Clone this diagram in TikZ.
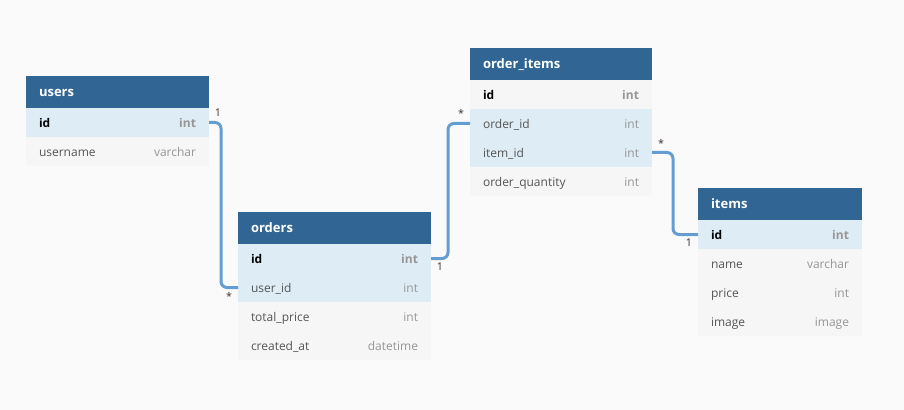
\documentclass[tikz,border=0pt]{standalone}
\usepackage{fontspec}
\setmainfont{Open Sans}
\usetikzlibrary{positioning, calc}
\definecolor{bgcanvas}{RGB}{250,250,250}
\definecolor{hdrblue}{RGB}{49,102,148}
\definecolor{rowblue}{RGB}{222,236,245}
\definecolor{rowgray}{RGB}{246,246,246}
\definecolor{linkblue}{RGB}{100,157,210}
\definecolor{fieldtext}{RGB}{85,85,85}
\definecolor{typetext}{RGB}{150,150,150}
\definecolor{cardtext}{RGB}{60,45,45}
\newcommand{\rowstrut}{\rule[-2.6pt]{0pt}{12pt}}
\newcommand{\fld}[2]{\rowstrut\textcolor{fieldtext}{#1}\hfill\textcolor{typetext}{#2}}
\newcommand{\pkey}[2]{\rowstrut\textbf{#1}\hfill\textcolor{typetext}{\textbf{#2}}}
\tikzset{
  header/.style={rectangle, fill=hdrblue, text=white, inner xsep=9.75pt,
                 inner ysep=0pt, outer sep=0pt, minimum height=24pt,
                 font=\bfseries\fontsize{9.75}{12}\selectfont},
  field/.style={rectangle, fill=rowgray, inner xsep=9.75pt, inner ysep=0pt,
                outer sep=0pt, minimum height=21.75pt,
                font=\fontsize{9}{12}\selectfont},
  linked/.style={field, fill=rowblue},
  conn/.style={draw=linkblue, line width=2.25pt, rounded corners=4.5pt},
  card/.style={font=\fontsize{8}{9}\selectfont, text=cardtext, inner sep=0pt},
}

\begin{document}
\begin{tikzpicture}[x=0.75pt, y=-0.75pt, node distance=0pt]
    \fill[bgcanvas] (0,0) rectangle (904,410);
    \useasboundingbox (0,0) rectangle (904,410);

    % users
    \begin{scope}[nodes={text width=117.75pt}]
    \node[header, anchor=north west] (users) at (26,76) {\rowstrut users};
    \node[linked, below=of users] (users-id) {\pkey{id}{int}};
    \node[field, below=of users-id] (users-username) {\fld{username}{varchar}};
    \end{scope}

    % orders
    \begin{scope}[nodes={text width=125.25pt}]
    \node[header, anchor=north west] (orders) at (238,212) {\rowstrut orders};
    \node[linked, below=of orders] (orders-id) {\pkey{id}{int}};
    \node[linked, below=of orders-id] (orders-userid) {\fld{user\_id}{int}};
    \node[field, below=of orders-userid] (orders-totalprice) {\fld{total\_price}{int}};
    \node[field, below=of orders-totalprice] (orders-createdat) {\fld{created\_at}{datetime}};
    \end{scope}

    % order_items
    \begin{scope}[nodes={text width=117pt}]
    \node[header, anchor=north west] (orderitems) at (470,48) {\rowstrut order\_items};
    \node[field, below=of orderitems] (orderitems-id) {\pkey{id}{int}};
    \node[linked, below=of orderitems-id] (orderitems-orderid) {\fld{order\_id}{int}};
    \node[linked, below=of orderitems-orderid] (orderitems-itemid) {\fld{item\_id}{int}};
    \node[field, below=of orderitems-itemid] (orderitems-qty) {\fld{order\_quantity}{int}};
    \end{scope}

    % items
    \begin{scope}[nodes={text width=103.5pt}]
    \node[header, anchor=north west] (items) at (698,188) {\rowstrut items};
    \node[linked, below=of items] (items-id) {\pkey{id}{int}};
    \node[field, below=of items-id] (items-name) {\fld{name}{varchar}};
    \node[field, below=of items-name] (items-price) {\fld{price}{int}};
    \node[field, below=of items-price] (items-image) {\fld{image}{image}};
    \end{scope}

    % references
    \draw[conn] (users-id.east) -- ++(12,0) |- (orders-userid.west);
    \draw[conn] (orders-id.east) -- ++(17,0) |- (orderitems-orderid.west);
    \draw[conn] (orderitems-itemid.east) -- ++(21,0) |- (items-id.west);

    \node[card] at ($(users-id.east)+(9,-9.5)$) {1};
    \node[card] at ($(orders-userid.west)+(-9,9)$) {*};
    \node[card] at ($(orders-id.east)+(9,8.5)$) {1};
    \node[card] at ($(orderitems-orderid.west)+(-9,-10)$) {*};
    \node[card] at ($(orderitems-itemid.east)+(9,-9)$) {*};
    \node[card] at ($(items-id.west)+(-9,8.5)$) {1};
\end{tikzpicture}
\end{document}
